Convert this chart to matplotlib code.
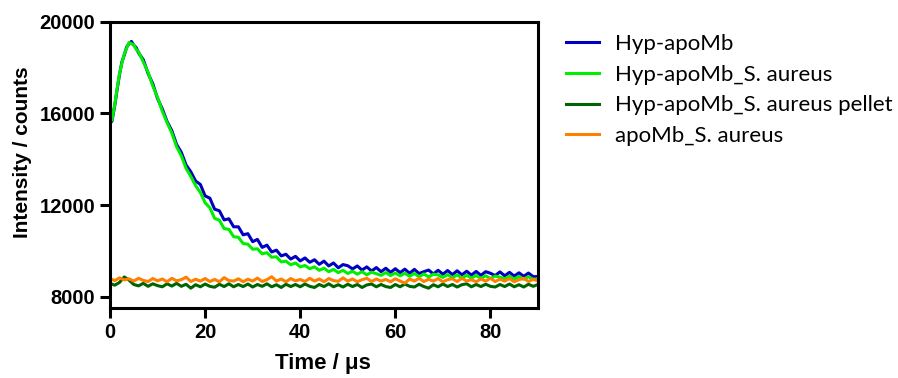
import numpy as np
import matplotlib
matplotlib.use('Agg')
import matplotlib.pyplot as plt

# time grids (µs)
t_decay = [0, 0.4, 1, 1.5, 2, 2.5, 3, 3.5, 4, 4.5, 5, 5.5] + list(range(6, 91))
t_base = list(range(0, 91))

hyp_apomb = [16450, 15650, 16350, 17050, 17700, 18250, 18550, 18900, 19050, 19150, 18980, 18880,
             18650, 18350, 17750, 17300, 16650, 16200, 15650, 15250, 14650, 14300,
             13750, 13450, 13050, 12900, 12400, 12300, 11820, 11750, 11350, 11400,
             11050, 11050, 10700, 10750, 10400, 10500, 10150, 10250, 9950, 10030,
             9780, 9850, 9640, 9760, 9560, 9690, 9500, 9610, 9410, 9550,
             9340, 9470, 9260, 9400, 9350, 9210, 9340, 9160, 9300, 9120,
             9270, 9090, 9240, 9060, 9220, 9050, 9200, 9020, 9190, 9010,
             9090, 9160, 8990, 9150, 8980, 9140, 8960, 9130, 8950, 9110,
             8940, 9100, 8930, 9090, 9020, 8920, 9080, 8910, 9060, 8900,
             9040, 8890, 9030, 8870, 8880]

hyp_apomb_sa = [16300, 15700, 16400, 17100, 17750, 18200, 18600, 18850, 19100, 19050, 19000, 18800,
                18700, 18250, 17800, 17200, 16700, 16100, 15600, 15150, 14550, 14150,
                13600, 13250, 12850, 12550, 12100, 11880, 11420, 11340, 10970, 10940,
                10620, 10590, 10320, 10290, 10070, 10090, 9870, 9920, 9720, 9740,
                9520, 9550, 9390, 9470, 9300, 9360, 9220, 9300, 9150, 9240,
                9090, 9190, 9050, 9150, 9010, 9110, 8980, 9090, 8950, 9070,
                9000, 8930, 9050, 8920, 9030, 8910, 9020, 8890, 9010, 8870,
                8990, 8860, 8980, 8950, 8840, 8960, 8830, 8950, 8820, 8930,
                8810, 8920, 8800, 8910, 8790, 8900, 8850, 8780, 8890, 8770,
                8880, 8760, 8870, 8750, 8790]

hyp_apomb_sa_pellet = [8580, 8500, 8620, 8860, 8720, 8530, 8470, 8580, 8450, 8560,
                       8480, 8430, 8560, 8460, 8580, 8450, 8540, 8370, 8520, 8430,
                       8550, 8450, 8410, 8540, 8440, 8560, 8430, 8530, 8440, 8550,
                       8420, 8530, 8450, 8560, 8430, 8520, 8400, 8540, 8440, 8530,
                       8430, 8550, 8450, 8400, 8530, 8440, 8560, 8430, 8520, 8420,
                       8540, 8440, 8530, 8400, 8510, 8550, 8430, 8530, 8440, 8400,
                       8530, 8430, 8550, 8450, 8420, 8540, 8440, 8370, 8520, 8430,
                       8550, 8440, 8530, 8420, 8520, 8560, 8430, 8530, 8440, 8540,
                       8450, 8420, 8530, 8440, 8550, 8430, 8520, 8420, 8540, 8450,
                       8530]

apomb_sa = [8790, 8700, 8820, 8730, 8780, 8680, 8800, 8710, 8660, 8790,
            8690, 8770, 8650, 8800, 8690, 8740, 8850, 8660, 8760, 8680,
            8790, 8660, 8750, 8650, 8830, 8700, 8680, 8780, 8650, 8760,
            8680, 8810, 8660, 8740, 8870, 8680, 8770, 8650, 8790, 8690,
            8750, 8660, 8800, 8680, 8770, 8650, 8790, 8700, 8670, 8820,
            8680, 8770, 8650, 8740, 8800, 8660, 8770, 8680, 8750, 8650,
            8780, 8680, 8590, 8770, 8680, 8800, 8660, 8760, 8680, 8790,
            8650, 8740, 8780, 8660, 8800, 8680, 8740, 8650, 8770, 8680,
            8800, 8660, 8760, 8680, 8790, 8650, 8740, 8800, 8660, 8760,
            8680]

labels = ['Hyp-apoMb', 'Hyp-apoMb_S. aureus', 'Hyp-apoMb_S. aureus pellet', 'apoMb_S. aureus']
colors = ['#0000C0', '#00EE00', '#006400', '#FF8000']

fig = plt.figure(figsize=(8.98, 3.78), dpi=100)
ax = fig.add_axes([0.1225, 0.185, 0.4766, 0.757])

lw = 2.2
ax.plot(t_decay, hyp_apomb, color=colors[0], lw=lw, label=labels[0])
ax.plot(t_decay, hyp_apomb_sa, color=colors[1], lw=lw, label=labels[1])
ax.plot(t_base, hyp_apomb_sa_pellet, color=colors[2], lw=lw, label=labels[2])
ax.plot(t_base, apomb_sa, color=colors[3], lw=lw, label=labels[3])

ax.set_xlim(0, 90)
ax.set_ylim(7500, 20000)
ax.set_xticks([0, 20, 40, 60, 80])
ax.set_yticks([8000, 12000, 16000, 20000])

for s in ax.spines.values():
    s.set_linewidth(2.2)
ax.tick_params(width=2.2, length=7.2, pad=3.6)
for lab in ax.get_xticklabels() + ax.get_yticklabels():
    lab.set_fontfamily('Liberation Sans')
    lab.set_fontweight('bold')
    lab.set_fontsize(14.5)

ax.set_xlabel('Time / μs', family='Liberation Sans', weight='bold', fontsize=16, va='top')
ax.xaxis.set_label_coords(0.498, -0.156)
ax.set_ylabel('Intensity / counts', family='Liberation Sans', weight='bold', fontsize=15, va='center')
ax.yaxis.set_label_coords(-0.204, 0.544)

leg = fig.legend(loc='upper left', bbox_to_anchor=(0.630, 0.910), frameon=False,
                 prop={'family': 'Lato', 'size': 16}, handlelength=1.5,
                 handletextpad=0.72, labelspacing=0.48, borderaxespad=0, borderpad=0)

fig.savefig('out.png', dpi=100)
